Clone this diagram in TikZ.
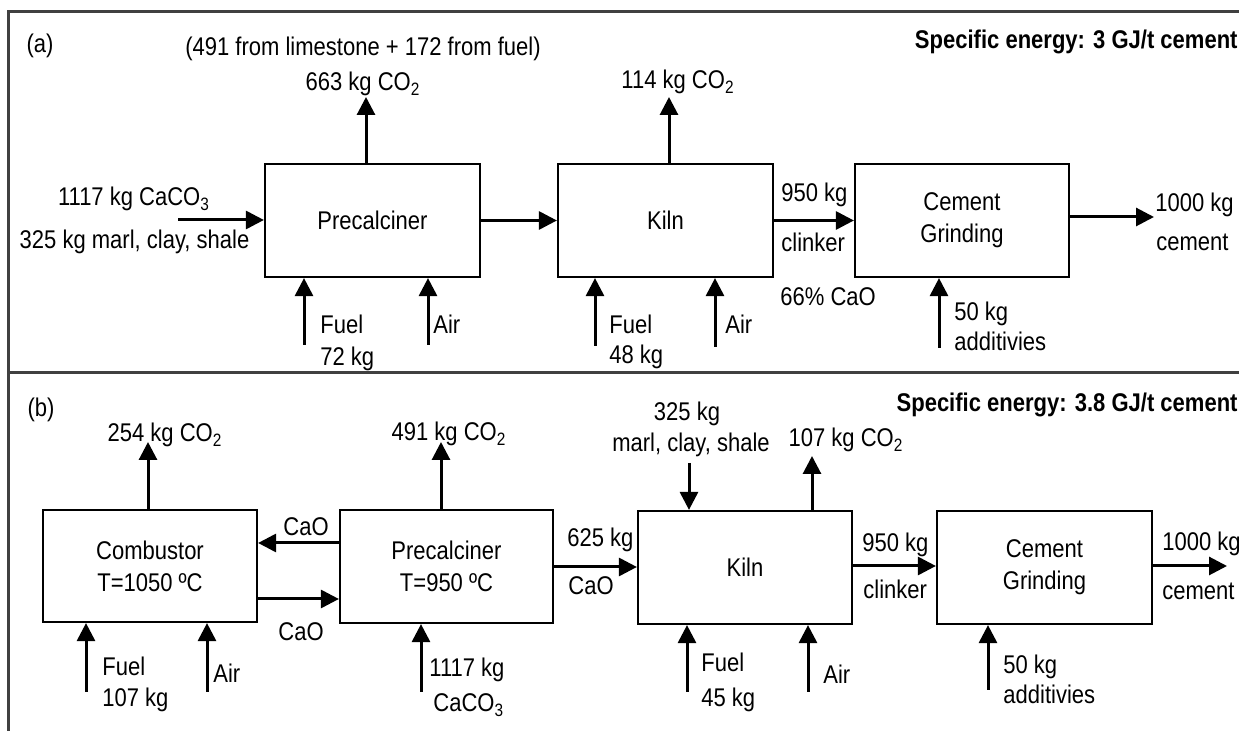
\documentclass[tikz,border=0pt]{standalone}
\usepackage{fontspec}
\setmainfont{Liberation Sans}[FakeStretch=0.86]
\usetikzlibrary{arrows.meta}
\begin{document}
\begin{tikzpicture}[x=0.5pt,y=-0.5pt,
  every node/.style={font=\fontsize{12.8}{16}\selectfont},
  lbl/.style={inner sep=0pt, text height=9pt, text depth=0pt},
  lblw/.style={lbl, anchor=west},
  boxA/.style={draw, line width=1.1pt, inner sep=0pt, align=center,
    minimum width=107.5pt, minimum height=56.5pt},
  arr/.style={line width=1.5pt, -{Triangle[length=9pt,width=9pt]}},
  frameline/.style={line width=1.5pt, black!75}]
\useasboundingbox (0,0) rectangle (1239,731);
% frame
\draw[frameline] (1239,12) -- (8,12) -- (8,731);
\draw[frameline] (8,373) -- (1239,373);

% ---------------- panel (a) ----------------
\node[boxA] (pcA) at (372.5,220.5) {Precalciner};
\node[boxA] (kilnA) at (665.5,220.5) {Kiln};
\node[boxA, minimum width=107pt] (grA) at (962,220.5) {Cement\\Grinding};

\node[lbl] (labA) at (40,44) {(a)};
\node[lbl] (noteA) at (363,47) {(491 from limestone + 172 from fuel)};
\node[lbl] (co2Atxt) at (363,82) {663 kg CO\textsubscript{2}};
\node[lbl] (caco3A) at (134,197) {1117 kg CaCO\textsubscript{3}};
\node[lbl] (marlA) at (134.5,240) {325 kg marl, clay, shale};
\node[lbl] (co2kAtxt) at (678,80) {114 kg CO\textsubscript{2}};
\node[lbl, anchor=east] (specA) at (1238,40) {\bfseries Specific energy: 3 GJ/t cement};
\node[lblw] (clkA1) at (781,193) {950 kg};
\node[lblw] (clkA2) at (781,243) {clinker};
\node[lblw] (caoA) at (780,297) {66\% CaO};
\node[lblw] (cemA1) at (1155,203) {1000 kg};
\node[lblw] (cemA2) at (1156,242) {cement};
\node[lblw] (fuelA1) at (320,325) {Fuel};
\node[lblw] (fuelA2) at (320,357) {72 kg};
\node[lblw] (airA) at (433,325) {Air};
\node[lblw] (fuelkA1) at (609,325) {Fuel};
\node[lblw] (fuelkA2) at (609,355) {48 kg};
\node[lblw] (airkA) at (725,325) {Air};
\node[lblw] (addA1) at (954,312) {50 kg};
\node[lblw] (addA2) at (954,342) {additivies};

\coordinate (inA) at (178,220);
\coordinate (co2A) at (366,97);
\coordinate (co2kA) at (669,97);
\coordinate (outA) at (1154,217);
\coordinate (fuelA) at (304,345);
\coordinate (airAc) at (428,345);
\coordinate (fuelkA) at (595,346);
\coordinate (airkAc) at (715,347);
\coordinate (addA) at (939,348);

\draw[arr] (inA) -- (inA -| pcA.west);
\draw[arr] (pcA.east) -- (kilnA.west);
\draw[arr] (kilnA.east) -- (grA.west);
\draw[arr] (grA.east |- outA) -- (outA);
\draw[arr] (co2A |- pcA.north) -- (co2A);
\draw[arr] (co2kA |- kilnA.north) -- (co2kA);
\draw[arr] (fuelA) -- (fuelA |- pcA.south);
\draw[arr] (airAc) -- (airAc |- pcA.south);
\draw[arr] (fuelkA) -- (fuelkA |- kilnA.south);
\draw[arr] (airkAc) -- (airkAc |- kilnA.south);
\draw[arr] (addA) -- (addA |- grA.south);

% ---------------- panel (b) ----------------
\node[boxA, minimum width=107pt, minimum height=56pt] (comB) at (150,566) {Combustor\\T=1050 ºC};
\node[boxA, minimum width=106.5pt] (pcB) at (446.5,566.5) {Precalciner\\T=950 ºC};
\node[boxA, minimum width=107pt] (kilnB) at (745,567.5) {Kiln};
\node[boxA] (grB) at (1044.5,567.5) {Cement\\Grinding};

\node[lbl] (labB) at (41,408) {(b)};
\node[lbl, anchor=east] (specB) at (1238,403) {\bfseries Specific energy: 3.8 GJ/t cement};
\node[lbl] (co2cBtxt) at (165,433) {254 kg CO\textsubscript{2}};
\node[lbl] (co2pBtxt) at (449,432) {491 kg CO\textsubscript{2}};
\node[lbl] (caoT) at (306,527) {CaO};
\node[lbl] (caoBt) at (301,632) {CaO};
\node[lblw] (fuelB1) at (102,667) {Fuel};
\node[lblw] (fuelB2) at (102,698) {107 kg};
\node[lblw] (airB) at (213,674) {Air};
\node[lblw] (caco3B1) at (429,668) {1117 kg};
\node[lblw] (caco3B2) at (433,703) {CaCO\textsubscript{3}};
\node[lblw] (mB1) at (567,538) {625 kg};
\node[lblw] (mB2) at (568,586) {CaO};
\node[lbl] (marlB1) at (687,412) {325 kg};
\node[lbl] (marlB2) at (691,443) {marl, clay, shale};
\node[lbl] (co2kBtxt) at (846,438) {107 kg CO\textsubscript{2}};
\node[lblw] (clkB1) at (862,543) {950 kg};
\node[lblw] (clkB2) at (863,590) {clinker};
\node[lblw] (cemB1) at (1162,542) {1000 kg};
\node[lblw] (cemB2) at (1162,591) {cement};
\node[lblw] (fuelkB1) at (701,663) {Fuel};
\node[lblw] (fuelkB2) at (701,698) {45 kg};
\node[lblw] (airkB) at (823,675) {Air};
\node[lblw] (addB1) at (1003,665) {50 kg};
\node[lblw] (addB2) at (1003,695) {additivies};

\coordinate (co2cB) at (148,442);
\coordinate (co2pB) at (441,442);
\coordinate (caoTopY) at (0,543);
\coordinate (caoBotY) at (0,599);
\coordinate (mainB) at (0,567);
\coordinate (marlB) at (689,463);
\coordinate (co2kB) at (812,456);
\coordinate (outB) at (1227,566);
\coordinate (fuelB) at (86,692);
\coordinate (airBc) at (207,692);
\coordinate (caco3B) at (421,692);
\coordinate (fuelkB) at (687,692);
\coordinate (airkBc) at (808,692);
\coordinate (addB) at (988,690);

\draw[arr] (co2cB |- comB.north) -- (co2cB);
\draw[arr] (co2pB |- pcB.north) -- (co2pB);
\draw[arr] (pcB.west |- caoTopY) -- (comB.east |- caoTopY);
\draw[arr] (comB.east |- caoBotY) -- (pcB.west |- caoBotY);
\draw[arr] (pcB.east |- mainB) -- (kilnB.west |- mainB);
\draw[arr] (marlB) -- (marlB |- kilnB.north);
\draw[arr] (co2kB |- kilnB.north) -- (co2kB);
\draw[arr] (kilnB.east |- outB) -- (grB.west |- outB);
\draw[arr] (grB.east |- outB) -- (outB);
\draw[arr] (fuelB) -- (fuelB |- comB.south);
\draw[arr] (airBc) -- (airBc |- comB.south);
\draw[arr] (caco3B) -- (caco3B |- pcB.south);
\draw[arr] (fuelkB) -- (fuelkB |- kilnB.south);
\draw[arr] (airkBc) -- (airkBc |- kilnB.south);
\draw[arr] (addB) -- (addB |- grB.south);
\end{tikzpicture}
\end{document}
